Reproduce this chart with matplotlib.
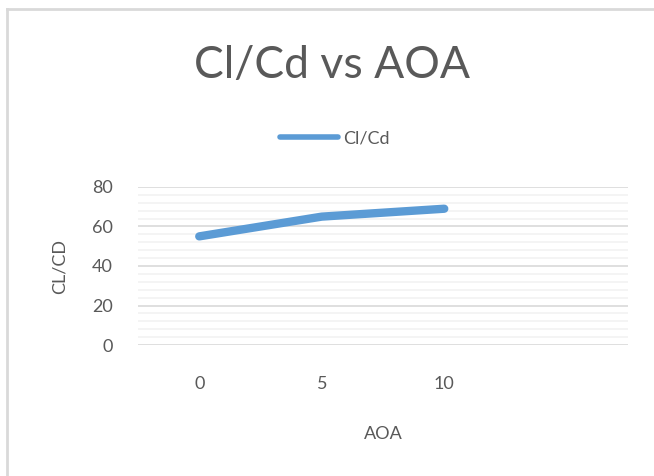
import numpy as np
import matplotlib
matplotlib.use("Agg")
import matplotlib.pyplot as plt
from matplotlib import rcParams
from matplotlib.lines import Line2D

rcParams['font.family'] = ['Lato', 'DejaVu Sans']

# data
aoa_labels = ["0", "5", "10"]
cl_cd = [55, 65, 69]

text_col = "#595959"
line_col = "#5B9BD5"

fig = plt.figure(figsize=(6.54, 4.76), dpi=100)
ax = fig.add_axes([138 / 654, 1 - 345 / 476, 490 / 654, 158 / 476])

x = np.arange(len(cl_cd))
ax.plot(x, cl_cd, color=line_col, linewidth=6, solid_capstyle="round",
        solid_joinstyle="round", label="Cl/Cd", zorder=3)

ax.set_xlim(-0.5, 3.5)
ax.set_ylim(0, 80)
ax.set_xticks(x)
ax.set_xticklabels(aoa_labels)
ax.set_yticks(np.arange(0, 81, 20))
ax.set_yticks(np.arange(0, 81, 4), minor=True)
ax.grid(axis="y", which="major", color="#D9D9D9", linewidth=1.2)
ax.grid(axis="y", which="minor", color="#F2F2F2", linewidth=1.2)
ax.set_axisbelow(True)
for s in ax.spines.values():
    s.set_visible(False)
ax.tick_params(axis="both", which="both", length=0, labelsize=13, colors=text_col)
ax.tick_params(axis="x", pad=22)
ax.tick_params(axis="y", pad=18)

ax.set_xlabel("AOA", fontsize=13, color=text_col, labelpad=25)
ax.set_ylabel("CL/CD", fontsize=13, color=text_col, labelpad=18)

fig.text(332 / 654, 1 - 66 / 476, "Cl/Cd vs AOA", fontsize=32, color=text_col,
         ha="center", va="center")

leg = fig.legend(handles=[Line2D([0], [0], color=line_col, linewidth=4,
                                 solid_capstyle="round")],
                 labels=["Cl/Cd"], loc="center", bbox_to_anchor=(335 / 654, 1 - 138 / 476),
                 frameon=False, fontsize=13, handlelength=3.2, handletextpad=0.3)
for t in leg.get_texts():
    t.set_color(text_col)

# chart border (left and top edges visible)
fig.add_artist(Line2D([7 / 654, 7 / 654], [0, 1 - 9 / 476], color="#D9D9D9",
                      linewidth=2, transform=fig.transFigure))
fig.add_artist(Line2D([7 / 654, 1], [1 - 9 / 476, 1 - 9 / 476], color="#D9D9D9",
                      linewidth=2, transform=fig.transFigure))

plt.savefig("out.png", dpi=100)
